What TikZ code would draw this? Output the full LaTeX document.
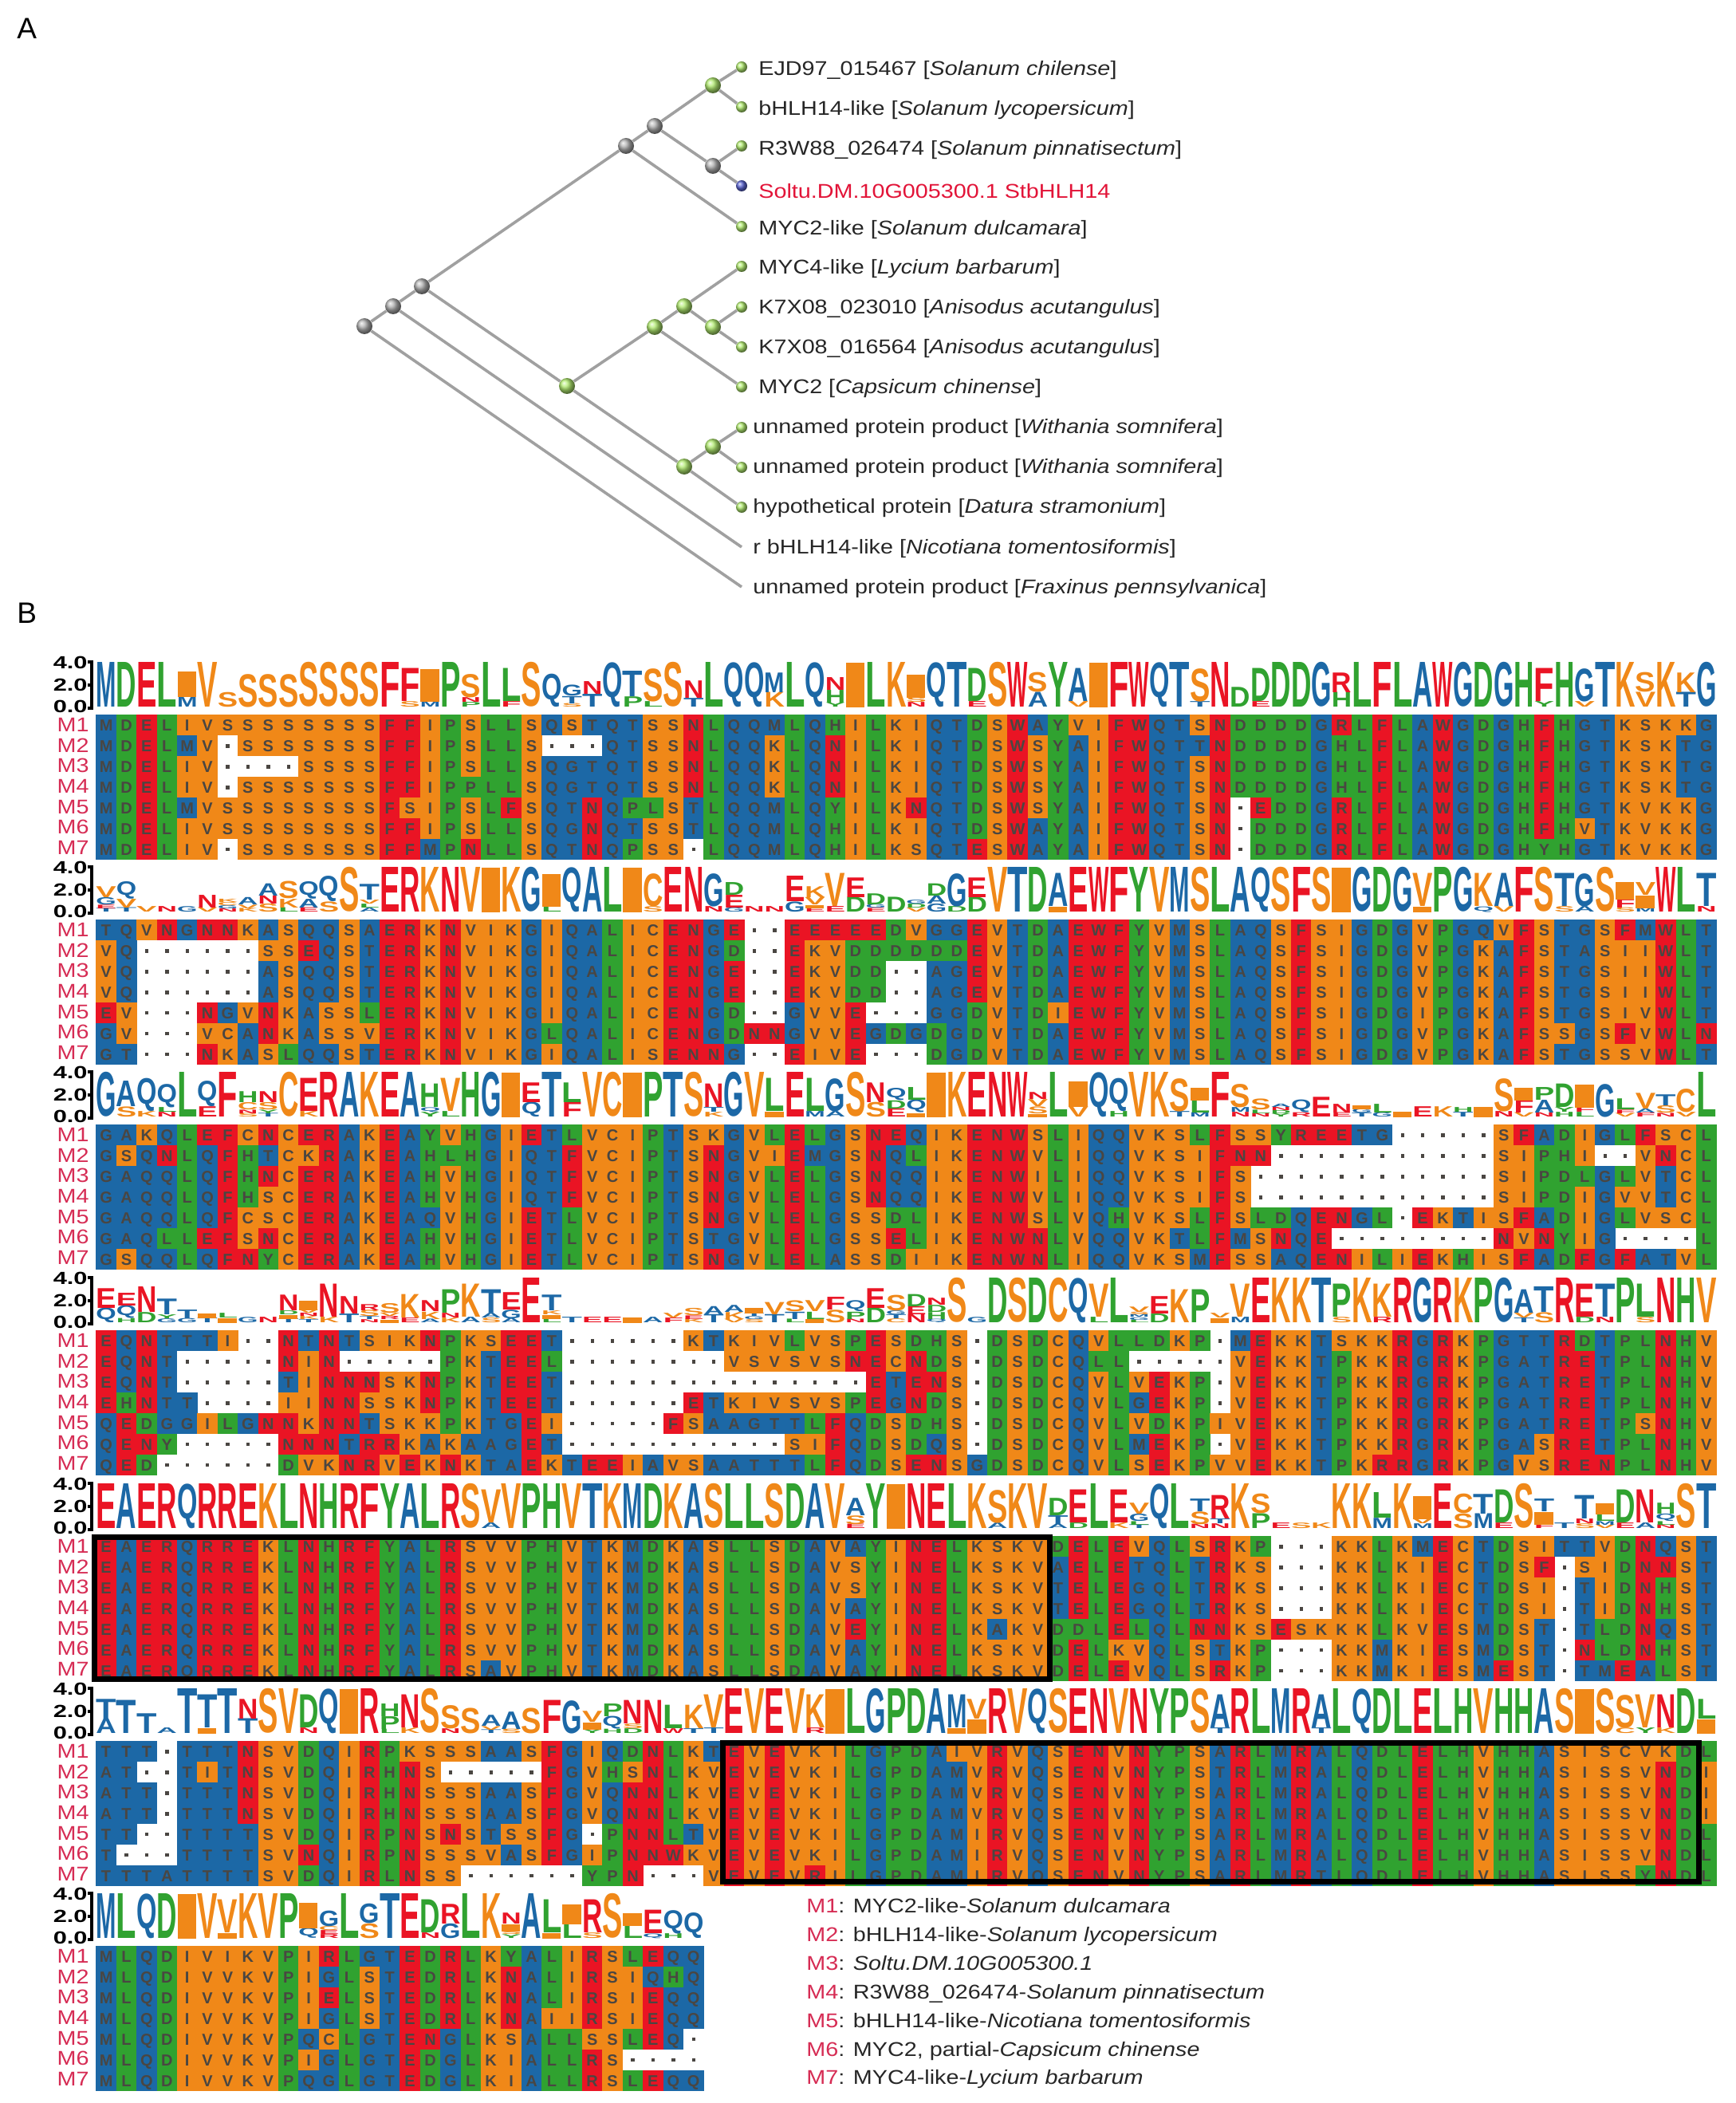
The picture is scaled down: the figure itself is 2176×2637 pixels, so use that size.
\documentclass[tikz,border=0pt]{standalone}
\usepackage{graphicx}
\usepackage{fontspec}
\setmainfont{Liberation Sans}
\setsansfont{Liberation Sans}
\newfontfamily\labelfont[FakeStretch=1.15]{Liberation Sans}
\newfontfamily\axisfont[FakeStretch=1.4]{Liberation Sans}
\definecolor{resblue}{RGB}{28,104,166}
\definecolor{resgreen}{RGB}{48,162,48}
\definecolor{resorange}{RGB}{240,136,24}
\definecolor{resred}{RGB}{234,20,36}
\definecolor{cellink}{RGB}{74,70,66}
\definecolor{mlabel}{RGB}{214,44,84}
\definecolor{leafred}{RGB}{226,20,56}
\definecolor{branchgray}{RGB}{160,160,160}
\definecolor{ballgreen}{RGB}{178,236,112}
\definecolor{ballgray}{RGB}{176,176,176}
\definecolor{ballblue}{RGB}{90,100,210}
\tikzset{
    branch/.style={draw=branchgray,line width=1.8pt},
    inner/.style={circle,inner sep=0pt,minimum size=10pt,shade,shading=ball},
    tip/.style={circle,inner sep=0pt,minimum size=7pt,shade,shading=ball},
    taxon/.style={anchor=base west,inner sep=0pt,text=black!85,font=\labelfont\fontsize{12.5}{12.5}\selectfont},
    logores/.style={anchor=south west,inner sep=0pt},
    rowlabel/.style={anchor=east,inner sep=0pt,text=mlabel,font=\labelfont\fontsize{12.5}{12.5}\selectfont},
    axislabel/.style={anchor=east,inner sep=0pt,font=\axisfont\bfseries\fontsize{11}{11}\selectfont},
    conserved/.style={draw=black,line width=3.5pt}
}
\makeatletter
\def\setres#1#2{\expandafter\def\csname rc@#1\endcsname{#2}}
\setres{A}{resblue}\setres{G}{resblue}\setres{M}{resblue}\setres{Q}{resblue}\setres{T}{resblue}
\setres{D}{resgreen}\setres{H}{resgreen}\setres{L}{resgreen}\setres{P}{resgreen}\setres{Y}{resgreen}
\setres{C}{resorange}\setres{I}{resorange}\setres{K}{resorange}\setres{S}{resorange}\setres{V}{resorange}
\setres{E}{resred}\setres{F}{resred}\setres{N}{resred}\setres{R}{resred}\setres{W}{resred}
\@namedef{ent@1}{.4011}\@namedef{ent@2}{.2580}\@namedef{ent@3}{.1747}\@namedef{ent@4}{.1153}
\@namedef{ent@5}{.0694}\@namedef{ent@6}{.0318}\@namedef{ent@7}{0}
\newcount\colno
\newcount\gridcol
\newdimen\enttotal
\def\readres#1#2{\ifx\relax#2\let\next\relax\else
    \global\advance\colno by 1
    \expandafter\gdef\csname res@#1@\the\colno\endcsname{#2}%
    \def\next{\readres{#1}}\fi\next}
\newcommand\readrow[2]{\global\colno=0 \readres{#1}#2\relax}
\def\getres#1#2{\edef\res{\csname res@#1@#2\endcsname}}
\newcommand\placeres{%
    \edef\rescol{\csname rc@\res\endcsname}%
    \pgfmathsetmacro\logoh{\logofull*\nres/7}%
    \pgfmathsetmacro\logohpt{\logoh/2}%
    \if I\res
        \fill[fill=\rescol] (\cellx+1,\logoy) rectangle ++(23.4,-\logoh);
    \else
        \node[logores,text=\rescol] (logo\nres\y) at (\cellx,\logoy) {\resizebox*{12.7pt}{\logohpt pt}{\bfseries\res}};
    \fi
    \pgfmathsetmacro\logoy{\logoy-\logoh}}
\newcommand\logocolumn[2]{%
    \@tfor\y:=1234567\do{\getres{\y}{#2}\expandafter\gdef\csname cnt@\res\endcsname{0}}%
    \@tfor\y:=1234567\do{\getres{\y}{#2}\expandafter\xdef\csname cnt@\res\endcsname{\the\numexpr\csname cnt@\res\endcsname+1\relax}}%
    \enttotal=0pt
    \@tfor\y:=1234567\do{\getres{\y}{#2}\advance\enttotal by \csname ent@\csname cnt@\res\endcsname\endcsname pt}%
    \pgfmathsetmacro\logofull{56/4.32*(4.32-\strip@pt\enttotal)}%
    \def\logoy{#1}%
    \@tfor\nres:=1234567\do{\@tfor\y:=1234567\do{\getres{\y}{#2}%
        \ifnum\csname cnt@\res\endcsname=\nres\relax
            \if-\res\else\placeres\fi
            \expandafter\gdef\csname cnt@\res\endcsname{0}%
        \fi}}}
\def\gridcell{%
    \if-\res
        \hbox to 12.7pt{\hss\raise2.4pt\hbox{\textcolor{cellink}{\rule{2.2pt}{2.2pt}}}\hss}%
    \else
        \edef\rescol{\csname rc@\res\endcsname}%
        \rlap{\textcolor{\rescol}{\rule[-2.85pt]{12.85pt}{12.95pt}}}%
        \hbox to 12.7pt{\hss\textcolor{cellink}{\res}\hss}%
    \fi}
\def\gridrow#1#2{\hbox{\vrule width0pt height10pt depth2.85pt
    \gridcol=0
    \loop\ifnum\gridcol<#2
        \advance\gridcol by 1
        \getres{#1}{\the\gridcol}\gridcell
    \repeat}}
\newcommand\alignblock[9]{%
    \readrow{1}{#3}\readrow{2}{#4}\readrow{3}{#5}\readrow{4}{#6}\readrow{5}{#7}\readrow{6}{#8}\readrow{7}{#9}%
    \draw[line width=2pt] (110,#1-66)--(115,#1-66)--(115,#1-8)--(110,#1-8) (110,#1-37)--(115,#1-37);
    \node[axislabel] (top#1) at (110,#1-65) {4.0};
    \node[axislabel] (mid#1) at (110,#1-37) {2.0};
    \node[axislabel] (low#1) at (110,#1-10) {0.0};
    \foreach \y in {1,...,7}{
        \node[rowlabel] (M\y) at (112,#1+12.8+25.7*\y-25.7) {M\y};
    }
    \foreach \x in {1,...,#2}{
        \pgfmathsetmacro\cellx{120+25.4*(\x-1)}
        \logocolumn{#1-9}{\x}
    }
    \node[anchor=north west,inner sep=0pt] (grid#1) at (120,#1) {\vbox{\sffamily\bfseries\fontsize{10}{10}\selectfont\offinterlineskip
        \gridrow{1}{#2}\gridrow{2}{#2}\gridrow{3}{#2}\gridrow{4}{#2}\gridrow{5}{#2}\gridrow{6}{#2}\gridrow{7}{#2}}};
}
\makeatother
\begin{document}
\begin{tikzpicture}[x=.5pt,y=-.5pt]
\useasboundingbox (0,0) rectangle (2176,2637);
\node[anchor=base west,inner sep=0pt,font=\fontsize{18.5}{18.5}\selectfont] (panelA) at (21,49) {A};
\node[anchor=base west,inner sep=0pt,font=\fontsize{18.5}{18.5}\selectfont] (panelB) at (21,781) {B};

\node[inner,ball color=ballgray] (root) at (457,409) {};
\node[inner,ball color=ballgray] (n1) at (493,384) {};
\node[inner,ball color=ballgray] (n2) at (529,359) {};
\node[inner,ball color=ballgray] (n3) at (785,183) {};
\node[inner,ball color=ballgray] (n4) at (821,158) {};
\node[inner,ball color=ballgreen] (n5) at (894,107) {};
\node[inner,ball color=ballgray] (n6) at (894,208) {};
\node[inner,ball color=ballgreen] (n7) at (711,484) {};
\node[inner,ball color=ballgreen] (n8) at (821,410) {};
\node[inner,ball color=ballgreen] (n9) at (858,384) {};
\node[inner,ball color=ballgreen] (n10) at (894,410) {};
\node[inner,ball color=ballgreen] (n11) at (858,585) {};
\node[inner,ball color=ballgreen] (n12) at (894,560) {};

\node[tip,ball color=ballgreen] (t1) at (930,84) {};
\node[tip,ball color=ballgreen] (t2) at (930,134) {};
\node[tip,ball color=ballgreen] (t3) at (930,183) {};
\node[tip,ball color=ballblue] (t4) at (930,233) {};
\node[tip,ball color=ballgreen] (t5) at (930,284) {};
\node[tip,ball color=ballgreen] (t6) at (930,334) {};
\node[tip,ball color=ballgreen] (t7) at (930,385) {};
\node[tip,ball color=ballgreen] (t8) at (930,435) {};
\node[tip,ball color=ballgreen] (t9) at (930,485) {};
\node[tip,ball color=ballgreen] (t10) at (930,536) {};
\node[tip,ball color=ballgreen] (t11) at (930,586) {};
\node[tip,ball color=ballgreen] (t12) at (930,636) {};
\coordinate (t13) at (930,686);
\coordinate (t14) at (930,736);

\draw[branch] (root)--(t14);
\draw[branch] (root)--(n1);
\draw[branch] (n1)--(t13);
\draw[branch] (n1)--(n2);
\draw[branch] (n2)--(n3);
\draw[branch] (n2)--(n7);
\draw[branch] (n3)--(n4);
\draw[branch] (n3)--(t5);
\draw[branch] (n4)--(n5);
\draw[branch] (n4)--(n6);
\draw[branch] (n5)--(t1);
\draw[branch] (n5)--(t2);
\draw[branch] (n6)--(t3);
\draw[branch] (n6)--(t4);
\draw[branch] (n7)--(n8);
\draw[branch] (n7)--(n11);
\draw[branch] (n8)--(n9);
\draw[branch] (n8)--(t9);
\draw[branch] (n9)--(t6);
\draw[branch] (n9)--(n10);
\draw[branch] (n10)--(t7);
\draw[branch] (n10)--(t8);
\draw[branch] (n11)--(n12);
\draw[branch] (n11)--(t12);
\draw[branch] (n12)--(t10);
\draw[branch] (n12)--(t11);

\node[taxon] (l1) at (951,95) {EJD97\_015467 [\textit{Solanum chilense}]};
\node[taxon] (l2) at (951,145) {bHLH14-like [\textit{Solanum lycopersicum}]};
\node[taxon] (l3) at (951,195) {R3W88\_026474 [\textit{Solanum pinnatisectum}]};
\node[taxon,text=leafred] (l4) at (951,249) {Soltu.DM.10G005300.1 StbHLH14};
\node[taxon] (l5) at (951,295) {MYC2-like [\textit{Solanum dulcamara}]};
\node[taxon] (l6) at (951,344) {MYC4-like [\textit{Lycium barbarum}]};
\node[taxon] (l7) at (951,394) {K7X08\_023010 [\textit{Anisodus acutangulus}]};
\node[taxon] (l8) at (951,444) {K7X08\_016564 [\textit{Anisodus acutangulus}]};
\node[taxon] (l9) at (951,494) {MYC2 [\textit{Capsicum chinense}]};
\node[taxon] (l10) at (944,543) {unnamed protein product [\textit{Withania somnifera}]};
\node[taxon] (l11) at (944,593) {unnamed protein product [\textit{Withania somnifera}]};
\node[taxon] (l12) at (944,643) {hypothetical protein [\textit{Datura stramonium}]};
\node[taxon] (l13) at (944,694) {r bHLH14-like [\textit{Nicotiana tomentosiformis}]};
\node[taxon] (l14) at (944,744) {unnamed protein product [\textit{Fraxinus pennsylvanica}]};

\alignblock{896}{80}
{MDELIVSSSSSSSSFFIPSLLSQSTQTSSNLQQMLQHILKIQTDSWAYVIFWQTSNDDDDGRLFLAWGDGHFHGTKSKKG}
{MDELMV-SSSSSSSFFIPSLLS---QTSSNLQQKLQNILKIQTDSWSYAIFWQTTNDDDDGHLFLAWGDGHFHGTKSKTG}
{MDELIV----SSSSFFIPSLLSQGTQTSSNLQQKLQNILKIQTDSWSYAIFWQTSNDDDDGHLFLAWGDGHFHGTKSKTG}
{MDELIV-SSSSSSSFFIPPLLSQGTQTSSNLQQKLQNILKIQTDSWSYAIFWQTSNDDDDGHLFLAWGDGHFHGTKSKTG}
{MDELMVSSSSSSSSFSIPSLFSQTNQPLSTLQQMLQYILKNQTDSWSYAIFWQTSN-EDDGRLFLAWGDGHFHGTKVKKG}
{MDELIVSSSSSSSSFFIPSLLSQGNQTSSTLQQMLQHILKIQTDSWAYAIFWQTSN-DDDGRLFLAWGDGHFHVTKVKKG}
{MDELIV-SSSSSSSFFMPNLLSQTNQPSS-LQQMLQHILKSQTESWAYAIFWQTSN-DDDGRLFLAWGDGHYHGTKVKKG}

\alignblock{1153}{80}
{TQVNGNNKASQQSAERKNVIKGIQALICENGE--EEEEEDVGGEVTDAEWFYVMSLAQSFSIGDGVPGQVFSTGSFMWLT}
{VQ------SSEQSTERKNVIKGIQALICENGD--EKVDDDDDDEVTDAEWFYVMSLAQSFSIGDGVPGKAFSTASIIWLT}
{VQ------ASQQSTERKNVIKGIQALICENGE--EKVDD--AGEVTDAEWFYVMSLAQSFSIGDGVPGKAFSTGSIIWLT}
{VQ------ASQQSTERKNVIKGIQALICENGE--EKVDD--AGEVTDAEWFYVMSLAQSFSIGDGVPGKAFSTGSIIWLT}
{EV---NGVNKASSLERKNVIKGIQALICENGD--GVVE---GGDVTDIEWFYVMSLAQSFSIGDGIPGKAFSTGSIVWLT}
{GV---VCANKASSVERKNVIKGLQALICENGDNNGVVEGDGDGDVTDAEWFYVMSLAQSFSIGDGVPGKAFSSGSFVWLN}
{GT---NKASLQQSTERKNVIKGIQALISENNG--EIVE---DGDVTDAEWFYVMSLAQSFSIGDGVPGKAFSTGSSVWLT}

\alignblock{1410}{80}
{GAKQLEFCNCERAKEAYVHGIETLVCIPTSKGVLELGSNEQIKENWSLIQQVKSLFSSYREETG-----SFADIGLFSCL}
{GSQNLQFHTCKRAKEAHLHGIQTFVCIPTSNGVIEMGSNQLIKENWVLIQQVKSIFNN-----------SIPHI--VNCL}
{GAQQLQFHNCERAKEAHVHGIQTFVCIPTSNGVLELGSNQQIKENWILIQQVKSIFS------------SIPDLGLVTCL}
{GAQQLQFHSCERAKEAHVHGIQTFVCIPTSNGVLELGSNQQIKENWVLIQQVKSIFS------------SIPDIGVVTCL}
{GAQQLQFCSCERAKEAQVHGIETLVCIPTSNGVLELGSSDLIKENWSLVQHVKSLFSLDQENGL-EKTISFADIGLVSCL}
{GAQLLEFSNCERAKEAHVHGIETLVCIPTSTGVLELGSSELIKENWNLVQQVKTLFMSNQE--------NVNYIG----L}
{GSQQLQFNYCERAKEAHVHGIETLVCIPTSNGVLELASSDIIKENWNLIQQVKSMFSSAQENILIEKHISFADFGFATVL}

\alignblock{1668}{80}
{EQNTTTI--NTNTSIKNPKSEET------KTKIVLVSPESDHS-DSDCQVLLDKP-MEKKTSKKRGRKPGTTRDTPLNHV}
{EQNT-----NIN-----PKTEEL--------VSVSVSNECNDS-DSDCQLL-----VEKKTPKKRGRKPGATRETPLNHV}
{EQNT-----TINNNSKNPKTEET---------------ETENS-DSDCQVLVEKP-VEKKTPKKRGRKPGATRETPLNHV}
{EHNTT----IINNSSKNPKTEET------ETKIVSVSPEGNDS-DSDCQVLGEKP-VEKKTPKKRGRKPGATRETPLNHV}
{QEDGGILGNNKNNTSKKPKTGEI-----FSAAGTTLFQDSDHS-DSDCQVLVDKPIVEKKTPKKRGRKPGATRETPSNHV}
{QENY-----NNNTRRKAKAAGET-----------SIFQDSDQS-DSDCQVLMEKP-VEKKTPKKRGRKPGASRETPLNHV}
{QED------DVKNRVEKNKTAEKTEEIAVSAATTTLFQDSENSGDSDCQVLSEKPVVEKKTPKRRGRKPGVSRENPLNHV}

\alignblock{1926}{80}
{EAERQRREKLNHRFYALRSVVPHVTKMDKASLLSDAVAYINELKSKVDELEVQLSRKP---KKLKMECTDSITTVDNQST}
{EAERQRREKLNHRFYALRSVVPHVTKMDKASLLSDAVSYINELKSKVAELETQLTRKS---KKLKIECTDSF-SIDNNST}
{EAERQRREKLNHRFYALRSVVPHVTKMDKASLLSDAVSYINELKSKVTELEGQLTRKS---KKLKIECTDSI-TIDNHST}
{EAERQRREKLNHRFYALRSVVPHVTKMDKASLLSDAVAYINELKSKVTELEGQLTRKS---KKLKIECTDSI-TIDNHST}
{EAERQRREKLNHRFYALRSVVPHVTKMDKASLLSDAVEYINELKAKVDDLELQLNNKSESKKKLKVESMDST-TLDNQST}
{EAERQRREKLNHRFYALRSVVPHVTKMDKASLLSDAVAYINELKSKVDELKVQLSTKP---KKMKIESMDST-NLDNHST}
{EAERQRREKLNHRFYALRSAVPHVTKMDKASLLSDAVAYINELKSKVDELEVQLSRKP---KKMKIESMEST-TMEALST}

\alignblock{2183}{80}
{TTT-TTTNSVDQIRPKSSSAASFGIQDNLKTEVEVKILGPDAIVRVQSENVNYPSARLMRALQDLELHVHHASISCVKDL}
{AT--TITNSVDQIRHNS-----FGVHSNLKVEVEVKILGPDAMVRVQSENVNYPSTRLMRALQDLELHVHHASISSVNDI}
{ATT-TTTNSVDQIRHNSSSAASFGVQNNLKVEVEVKILGPDAMVRVQSENVNYPSARLMRALQDLELHVHHASISSVNDI}
{ATT-TTTNSVDQIRHNSSSAASFGVQNNLKVEVEVKILGPDAMVRVQSENVNYPSARLMRALQDLELHVHHASISSVNDI}
{TT--TTTTSVDQIRPNSNSTSSFG-PNNLTVEVEVKILGPDAMIRVQSENVNYPSARLMRALQDLELHVHHASISSVNDL}
{T---TTTTSVNQIRPNSSSVASFGIPNNWKVEVEVKILGPDAMIRVQSENVNYPSARLMRALQDLELHVHHASISSVNDL}
{TTTATTTTSVDQIRLNSS------YPN---VEVEVRILGPDAMIRVQSENVNYPSARLMRTLQDLELHVHHASISSYNDL}

\alignblock{2440}{30}
{MLQDIVIKVPIRLGTEDRLKYALIRSLEQQ}
{MLQDIVVKVPIGLSTEDRLKNALIRSIQHQ}
{MLQDIVVKVPIELSTEDRLKNALIRSIEQQ}
{MLQDIVVKVPIGLSTEDRLKNAIIRSIEQQ}
{MLQDIVVKVPQCLGTENGLKSALLSSLEQ-}
{MLQDIVVKVPIGLGTEDGLKIALLRS----}
{MLQDIVVKVPQGLGTEDGLKIALLRSLEQQ}

\draw[conserved] (118,1927) rectangle (1316,2105);
\draw[conserved] (906,2185) rectangle (2130,2359);

\node[taxon] (leg1) at (1011,2398) {\textcolor{mlabel}{M1}: MYC2-like-\textit{Solanum dulcamara}};
\node[taxon] (leg2) at (1011,2434) {\textcolor{mlabel}{M2}: bHLH14-like-\textit{Solanum lycopersicum}};
\node[taxon] (leg3) at (1011,2470) {\textcolor{mlabel}{M3}: \textit{Soltu.DM.10G005300.1}};
\node[taxon] (leg4) at (1011,2506) {\textcolor{mlabel}{M4}: R3W88\_026474-\textit{Solanum pinnatisectum}};
\node[taxon] (leg5) at (1011,2542) {\textcolor{mlabel}{M5}: bHLH14-like-\textit{Nicotiana tomentosiformis}};
\node[taxon] (leg6) at (1011,2578) {\textcolor{mlabel}{M6}: MYC2, partial-\textit{Capsicum chinense}};
\node[taxon] (leg7) at (1011,2613) {\textcolor{mlabel}{M7}: MYC4-like-\textit{Lycium barbarum}};
\end{tikzpicture}
\end{document}
